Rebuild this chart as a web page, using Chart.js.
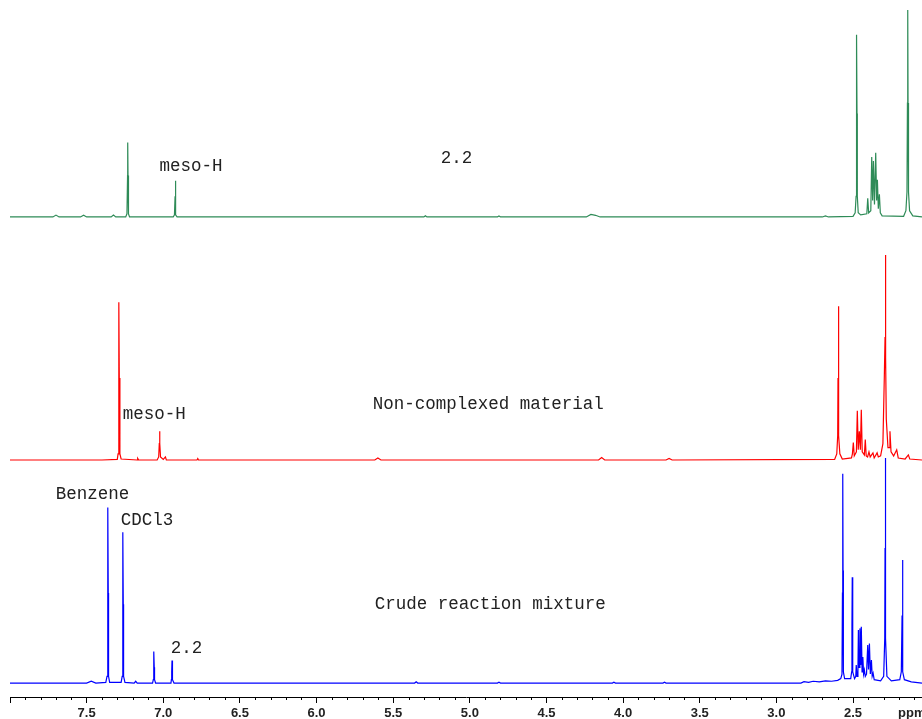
<!DOCTYPE html>
<html>
<head>
<meta charset="utf-8">
<title>1H NMR stack</title>
<script src="https://cdn.jsdelivr.net/npm/chart.js@4.4.1/dist/chart.umd.min.js"></script>
<style>
  html, body { margin: 0; padding: 0; background: #fff; overflow: hidden; }
  canvas { display: block; }
</style>
</head>
<body>
<canvas id="nmr" width="922" height="719"></canvas>
<script>
/* stacked 1H NMR spectra
   each point is [ppm, relative intensity], tallest peak of a trace = 100 */

const xTicks = [2.5, 3.0, 3.5, 4.0, 4.5, 5.0, 5.5, 6.0, 6.5, 7.0, 7.5, 8.0];

// top trace: "2.2"
const green = [
  [8.00, 0], [7.72, 0], [7.70, 0.9], [7.68, 0], [7.54, 0], [7.52, 0.8], [7.50, 0],
  [7.34, 0], [7.325, 0.9], [7.31, 0],
  [7.245, 0], [7.237, 1.5], [7.233, 20], [7.232, 36], [7.230, 20], [7.227, 1.5], [7.22, 0],
  [6.935, 0], [6.927, 1], [6.923, 10], [6.922, 17.5], [6.920, 10], [6.917, 1], [6.91, 0],
  [5.30, 0], [5.29, 0.6], [5.28, 0], [4.82, 0], [4.81, 0.5], [4.80, 0],
  [4.24, 0], [4.21, 1.2], [4.18, 0.8], [4.15, 0],
  [2.70, 0], [2.68, 0.5], [2.66, 0],
  [2.50, 0.3], [2.486, 2], [2.480, 10], [2.478, 50], [2.476, 88], [2.474, 50], [2.472, 10], [2.466, 2], [2.45, 1],
  [2.41, 1.5], [2.404, 9], [2.398, 2], [2.384, 3], [2.378, 29], [2.372, 8], [2.367, 27],
  [2.360, 6], [2.352, 31], [2.346, 8], [2.341, 18], [2.335, 4], [2.328, 11], [2.322, 2], [2.31, 0.5],
  [2.17, 0.3], [2.155, 3], [2.148, 12], [2.145, 55], [2.143, 100], [2.141, 55], [2.138, 12], [2.131, 3], [2.11, 0.5], [2.05, 0]
];

// middle trace: "Non-complexed material"
const red = [
  [8.00, 0], [7.40, 0], [7.30, 0.3], [7.295, 3], [7.291, 40], [7.289, 77], [7.287, 40], [7.283, 3], [7.275, 0.5],
  [7.17, 0], [7.167, 0.8], [7.16, 0],
  [7.04, 0], [7.030, 1.5], [7.026, 8], [7.024, 14], [7.022, 8], [7.018, 1.5], [7.00, 0.3], [6.986, 1.5], [6.98, 0],
  [6.78, 0], [6.775, 0.7], [6.77, 0],
  [5.62, 0], [5.60, 1], [5.58, 0], [4.16, 0], [4.14, 1.2], [4.12, 0], [3.72, 0], [3.70, 0.8], [3.68, 0],
  [2.62, 0.3], [2.606, 3], [2.600, 12], [2.598, 40], [2.596, 75], [2.594, 40], [2.592, 12], [2.586, 3], [2.57, 0.5],
  [2.51, 1], [2.504, 3], [2.498, 8.5], [2.492, 2], [2.478, 4], [2.472, 24], [2.466, 5],
  [2.459, 14], [2.452, 5], [2.446, 24.5], [2.440, 4], [2.426, 2.5], [2.420, 10], [2.414, 2],
  [2.405, 1.5], [2.396, 4], [2.388, 1.5], [2.370, 3.5], [2.362, 1], [2.343, 3.5], [2.335, 1.5],
  [2.32, 2], [2.305, 8], [2.296, 40], [2.291, 60], [2.289, 100], [2.286, 50], [2.283, 20], [2.272, 6], [2.265, 6],
  [2.259, 14], [2.252, 4], [2.235, 2], [2.215, 5], [2.205, 1], [2.16, 0.5], [2.139, 2.5],
  [2.13, 0.5], [2.05, 0]
];

// bottom trace: "Crude reaction mixture"
const blue = [
  [8.00, 0], [7.50, 0], [7.47, 0.8], [7.44, 0],
  [7.375, 0.3], [7.367, 3], [7.363, 30], [7.361, 78], [7.359, 40], [7.357, 3], [7.35, 0.3],
  [7.275, 0.3], [7.268, 3], [7.265, 40], [7.263, 67], [7.261, 35], [7.259, 3], [7.25, 0.3],
  [7.19, 0], [7.18, 0.8], [7.17, 0],
  [7.07, 0], [7.065, 1.5], [7.063, 7], [7.061, 14], [7.059, 7], [7.057, 1.5], [7.05, 0],
  [6.95, 0], [6.947, 1.5], [6.945, 5], [6.943, 10], [6.941, 5], [6.939, 1.5], [6.93, 0],
  [5.36, 0], [5.35, 0.6], [5.34, 0], [4.82, 0], [4.81, 0.4], [4.80, 0],
  [4.07, 0], [4.06, 0.4], [4.05, 0], [3.74, 0], [3.73, 0.4], [3.72, 0],
  [2.84, 0], [2.82, 0.6], [2.79, 0.3], [2.76, 0.8], [2.72, 0.5], [2.68, 1], [2.64, 0.8], [2.60, 1.2],
  [2.580, 2], [2.572, 4], [2.569, 40], [2.567, 93], [2.565, 50], [2.563, 5], [2.555, 2],
  [2.515, 2], [2.509, 5], [2.507, 25], [2.505, 47], [2.503, 25], [2.501, 5], [2.490, 2],
  [2.482, 3], [2.479, 8], [2.474, 3], [2.468, 5], [2.465, 23.6], [2.461, 7], [2.455, 24.3],
  [2.450, 8], [2.446, 25], [2.441, 5], [2.436, 11.6], [2.431, 4], [2.426, 5.8], [2.420, 3],
  [2.412, 4], [2.404, 16.9], [2.399, 6], [2.393, 17.6], [2.387, 4], [2.380, 10.2], [2.375, 3],
  [2.369, 4.4], [2.362, 1.5],
  [2.32, 1], [2.300, 3], [2.293, 20], [2.291, 60], [2.290, 100], [2.288, 60], [2.286, 20], [2.279, 3], [2.25, 1],
  [2.195, 1.5], [2.185, 5], [2.180, 30], [2.178, 54.7], [2.176, 30], [2.174, 5], [2.165, 1.5], [2.12, 0.5], [2.05, 0]
];

// annotations: text, ppm of left edge, height on the trace's own axis
const notes = [
  { text: 'meso-H', ppm: 7.024, h: 24.6, axis: 'yG' },
  { text: '2.2', ppm: 5.189, h: 28.5, axis: 'yG' },
  { text: 'meso-H', ppm: 7.265, h: 22.4, axis: 'yR' },
  { text: 'Non-complexed material', ppm: 5.633, h: 27.3, axis: 'yR' },
  { text: 'Benzene', ppm: 7.702, h: 84, axis: 'yB' },
  { text: 'CDCl3', ppm: 7.278, h: 72.4, axis: 'yB' },
  { text: 'Crude reaction mixture', ppm: 5.620, h: 35.1, axis: 'yB' },
  { text: '2.2', ppm: 6.952, h: 15.6, axis: 'yB' }
];

const toXY = arr => arr.map(p => ({ x: p[0], y: p[1] }));

function trace(data, color, axis) {
  return {
    data: toXY(data),
    borderColor: color,
    borderWidth: 1.2,
    pointRadius: 0,
    tension: 0,
    fill: false,
    yAxisID: axis
  };
}

/* labels + minor ticks + ppm unit */
const extras = {
  id: 'extras',
  afterDraw(chart) {
    const ctx = chart.ctx;
    const xs = chart.scales.x;
    const bottom = chart.chartArea.bottom;
    ctx.save();
    // minor ticks every 0.1 ppm
    ctx.strokeStyle = '#000';
    ctx.lineWidth = 1;
    ctx.beginPath();
    for (let i = 21; i <= 80; i++) {
      if (i % 5 === 0) continue;
      const px = Math.round(xs.getPixelForValue(i / 10)) + 0.5;
      ctx.moveTo(px, bottom);
      ctx.lineTo(px, bottom + 3);
    }
    ctx.stroke();

    ctx.fillStyle = '#222';
    ctx.font = '17.5px "Liberation Mono", "DejaVu Sans Mono", monospace';
    ctx.textBaseline = 'middle';
    ctx.textAlign = 'left';
    notes.forEach(n => {
      const ys = chart.scales[n.axis];
      ctx.fillText(n.text, xs.getPixelForValue(n.ppm), ys.getPixelForValue(n.h));
    });

    ctx.font = 'bold 13px "Liberation Sans", Arial, sans-serif';
    ctx.fillStyle = '#222';
    ctx.fillText('ppm', 898, 713);
    ctx.restore();
  }
};

new Chart(document.getElementById('nmr'), {
  type: 'line',
  data: {
    datasets: [
      trace(green, '#2e8b57', 'yG'),
      trace(red, '#ff0000', 'yR'),
      trace(blue, '#0000ff', 'yB')
    ]
  },
  options: {
    responsive: false,
    animation: false,
    events: [],
    layout: { padding: { left: 10, right: 0, top: 0, bottom: 0 } },
    plugins: { legend: { display: false }, tooltip: { enabled: false } },
    scales: {
      x: {
        type: 'linear',
        reverse: true,
        min: 2.05,
        max: 8.0,
        afterFit(scale) { scale.height = 22; },
        afterBuildTicks(scale) { scale.ticks = xTicks.map(v => ({ value: v })); },
        ticks: {
          autoSkip: false,
          maxRotation: 0,
          padding: 3,
          color: '#222',
          font: { family: '"Liberation Sans", Arial, sans-serif', size: 13, weight: 'bold' },
          callback: v => (v >= 8 ? '' : v.toFixed(1))
        },
        grid: { display: true, drawOnChartArea: false, tickLength: 6, color: '#000' },
        border: { display: true, color: '#000', width: 1 }
      },
      yG: { type: 'linear', display: false, min: -231.9, max: 104.8 },
      yR: { type: 'linear', display: false, min: -115.6, max: 224.4 },
      yB: { type: 'linear', display: false, min: -6.2, max: 303.6 }
    }
  },
  plugins: [extras]
});
</script>
</body>
</html>
